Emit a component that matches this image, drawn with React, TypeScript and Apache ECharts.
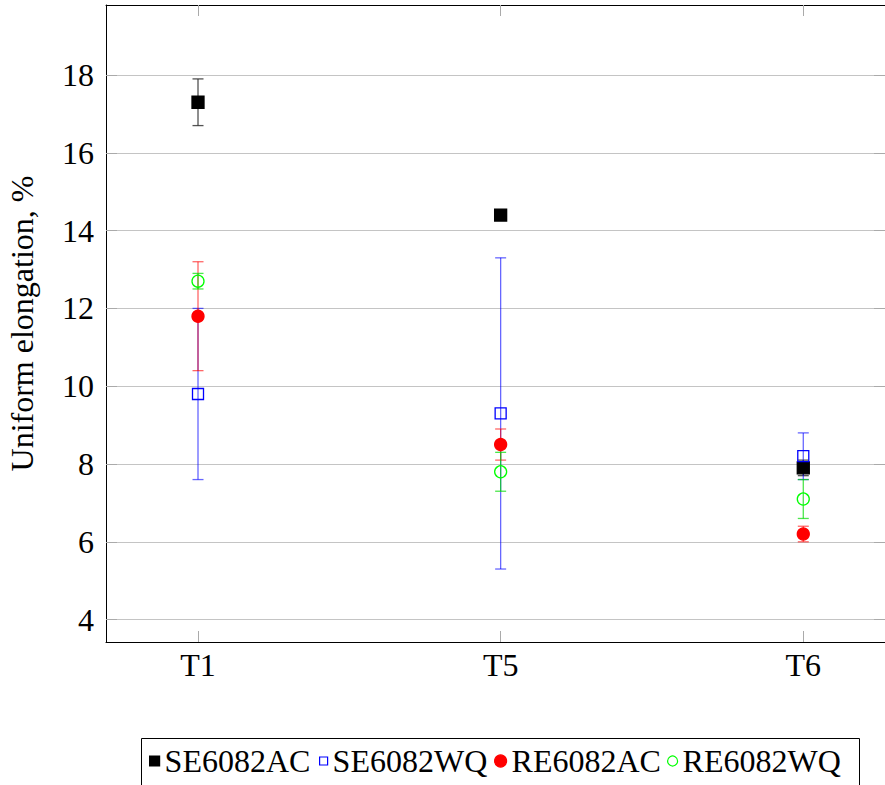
import React, { useEffect, useRef } from "react";
import * as echarts from "echarts";

const categories = ["T1", "T5", "T6"];
const yTicks = [4, 6, 8, 10, 12, 14, 16, 18];

const seriesNames = ["SE6082AC", "SE6082WQ", "RE6082AC", "RE6082WQ"];
const se6082ac = [17.3, 14.4, 7.9];
const se6082acErr = [0.6, 0, 0.2];
const se6082wq = [9.8, 9.3, 8.2];
const se6082wqErr = [2.2, 4.0, 0.6];
const re6082ac = [11.8, 8.5, 6.2];
const re6082acErr = [1.4, 0.4, 0.2];
const re6082wq = [12.7, 7.8, 7.1];
const re6082wqErr = [0.2, 0.5, 0.5];

const FONT = '"Liberation Serif", "DejaVu Serif", serif';

export default function App() {
  const ref = useRef<HTMLDivElement>(null);
  useEffect(() => {
    if (!ref.current) return;
    const chart = echarts.init(ref.current, undefined, { renderer: "svg" });
    const xs = categories.map((_, i) => i + 1);

    const defs = [
      { name: seriesNames[0], vals: se6082ac, errs: se6082acErr, symbol: "rect", size: 12, fill: "#000", stroke: "#000", errColor: "rgba(40,40,40,0.8)", lw: { icon: "rect", w: 10, h: 10 } },
      { name: seriesNames[1], vals: se6082wq, errs: se6082wqErr, symbol: "rect", size: 11, fill: "rgba(255,255,255,0)", stroke: "#0000ff", errColor: "rgba(0,0,255,0.6)", lw: { icon: "rect", w: 8, h: 8 } },
      { name: seriesNames[2], vals: re6082ac, errs: re6082acErr, symbol: "circle", size: 12, fill: "#ff0000", stroke: "#ff0000", errColor: "rgba(255,0,0,0.6)", lw: { icon: "circle", w: 12, h: 12 } },
      { name: seriesNames[3], vals: re6082wq, errs: re6082wqErr, symbol: "circle", size: 12, fill: "rgba(255,255,255,0)", stroke: "#00ff00", errColor: "rgba(0,220,0,0.7)", lw: { icon: "circle", w: 10, h: 10 } },
    ];

    const series: any[] = [];
    defs.forEach((d) => {
      const errData = xs
        .map((x, i) => [x, d.vals[i] - d.errs[i], d.vals[i] + d.errs[i]])
        .filter((r, i) => d.errs[i] > 0);
      series.push({
        type: "custom",
        name: d.name + " error",
        xAxisIndex: 0,
        yAxisIndex: 0,
        data: errData,
        encode: { x: 0, y: [1, 2] },
        renderItem: (params: any, api: any) => {
          const x = api.value(0);
          const lo = api.coord([x, api.value(1)]);
          const hi = api.coord([x, api.value(2)]);
          const w = 5.5;
          const style = { stroke: d.errColor, lineWidth: 1.3 };
          return {
            type: "group",
            children: [
              { type: "line", shape: { x1: lo[0], y1: lo[1], x2: hi[0], y2: hi[1] }, style },
              { type: "line", shape: { x1: lo[0] - w, y1: lo[1], x2: lo[0] + w, y2: lo[1] }, style },
              { type: "line", shape: { x1: hi[0] - w, y1: hi[1], x2: hi[0] + w, y2: hi[1] }, style },
            ],
          };
        },
      });
      series.push({
        type: "scatter",
        name: d.name,
        xAxisIndex: 0,
        yAxisIndex: 0,
        symbol: d.symbol,
        symbolSize: d.size,
        data: xs.map((x, i) => [x, d.vals[i]]),
        itemStyle: { color: d.fill, borderColor: d.stroke, borderWidth: 1.3, opacity: 1 },
        emphasis: { disabled: true },
      });
    });

    const legendLefts = [149, 319, 494, 667];
    const legends = defs.map((d, i) => ({
      left: legendLefts[i],
      top: 745,
      padding: 0,
      itemWidth: d.lw.w,
      itemHeight: d.lw.h,
      selectedMode: false,
      data: [
        {
          name: d.name,
          icon: d.lw.icon,
          itemStyle: { color: d.fill, borderColor: d.stroke, borderWidth: 1.2, opacity: 1 },
        },
      ],
      textStyle: { fontFamily: FONT, fontSize: 32, color: "#000", lineHeight: 32 },
    }));

    const tickStyle = { show: true, inside: true, length: 11, lineStyle: { color: "#aaaaaa", width: 1 } };

    chart.setOption({
      animation: false,
      backgroundColor: "#fff",
      textStyle: { fontFamily: FONT },
      grid: { left: 106, top: 5, right: 0, bottom: 143, containLabel: false, outerBoundsMode: "none" },
      legend: legends,
      graphic: [
        {
          type: "rect",
          shape: { x: 141.5, y: 738.5, width: 718, height: 80 },
          style: { fill: "none", stroke: "#000", lineWidth: 1 },
          silent: true,
        },
      ],
      xAxis: [
        {
          type: "value",
          position: "bottom",
          min: 0.696,
          max: 3.27,
          axisLine: { show: true, lineStyle: { color: "#000", width: 1 } },
          axisTick: { ...tickStyle, customValues: xs },
          axisLabel: {
            customValues: xs,
            formatter: (v: number) => categories[Math.round(v) - 1] ?? "",
            fontFamily: FONT,
            fontSize: 32,
            color: "#000",
            margin: 7,
          },
          splitLine: { show: false },
        },
        {
          type: "value",
          position: "top",
          min: 0.696,
          max: 3.27,
          axisLine: { show: true, lineStyle: { color: "#000", width: 1 } },
          axisTick: { ...tickStyle, customValues: xs },
          axisLabel: { show: false, customValues: xs },
          splitLine: { show: false },
        },
      ],
      yAxis: [
        {
          type: "value",
          position: "left",
          min: 3.424,
          max: 19.8,
          name: "Uniform elongation, %",
          nameLocation: "middle",
          nameGap: 68,
          nameTextStyle: { fontFamily: FONT, fontSize: 32, color: "#000" },
          axisLine: { show: true, lineStyle: { color: "#000", width: 1 } },
          axisTick: { ...tickStyle, customValues: yTicks },
          axisLabel: {
            customValues: yTicks,
            fontFamily: FONT,
            fontSize: 32,
            color: "#000",
            margin: 12,
          },
          splitLine: { show: true, lineStyle: { color: "#c4c4c4", width: 1 } },
        },
        {
          type: "value",
          position: "right",
          min: 3.424,
          max: 19.8,
          axisLine: { show: true, lineStyle: { color: "#000", width: 1 } },
          axisTick: { ...tickStyle, customValues: yTicks },
          axisLabel: { show: false, customValues: yTicks },
          splitLine: { show: false },
        },
      ],
      series,
    });
    return () => chart.dispose();
  }, []);
  return (
    <div
      ref={ref}
      style={{ position: "absolute", left: 0, top: 0, width: 885, height: 785 }}
    />
  );
}
